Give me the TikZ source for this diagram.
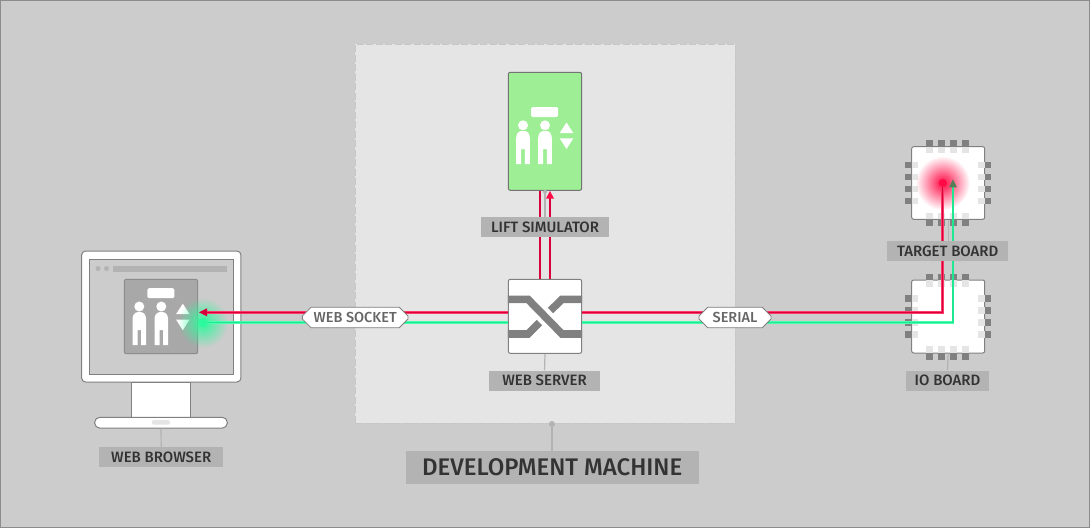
\documentclass[tikz,border=0pt]{standalone}
\usepackage{fontspec}
\setmainfont{Fira Sans Medium}
\usetikzlibrary{arrows.meta,fadings,shapes.misc,calc}
\definecolor{bgc}{HTML}{CCCCCC}
\definecolor{devc}{HTML}{E5E5E5}
\definecolor{labc}{HTML}{B3B3B3}
\definecolor{edgec}{HTML}{808080}
\definecolor{txtc}{HTML}{333333}
\definecolor{pinc}{HTML}{808080}
\definecolor{redc}{HTML}{FF0A45}
\definecolor{redo}{HTML}{FF3A68}
\definecolor{redk}{HTML}{D8003A}
\definecolor{grnc}{HTML}{2CFA9C}
\definecolor{grno}{HTML}{48FFAE}
\definecolor{grnk}{HTML}{20E890}
\definecolor{liftc}{HTML}{9DEE95}
\tikzfading[name=glowfade, inner color=transparent!0, outer color=transparent!100]
\tikzset{
  lab/.style={fill=labc,text=txtc,inner sep=0pt,font=\fontsize{15}{18}\selectfont,anchor=center},
  box/.style={draw=edgec,line width=1pt,rounded corners=2pt,inner sep=0pt,anchor=center},
  lead/.style={draw=labc,line width=1.2pt},
  redl/.style={draw=redo,double=redk,double distance=1.3pt,line width=0.8pt},
  grnl/.style={draw=grno,double=grnk,double distance=1.3pt,line width=0.8pt},
  pill/.style={draw=edgec,fill=white,line width=0.8pt,chamfered rectangle,chamfered rectangle xsep=7pt,chamfered rectangle ysep=3.5pt,inner xsep=0pt,inner ysep=0pt,text=black!60,font=\fontsize{14.5}{17}\selectfont,anchor=center},
  swl/.style={draw=edgec,line width=7.6pt},
  iconw/.style={fill=white,draw=none}
}
\newcommand{\lifticon}[2]{%
 \begin{scope}[shift={(#1,#2)}]
  \fill[iconw,rounded corners=1.5pt] (531,107) rectangle (558,117);
  \foreach \px in {523,545}{
   \fill[iconw] (\px,125.3) circle (5);
   \fill[iconw] (\px-6.8,164) -- (\px-6.8,138) arc[start angle=180,end angle=90,x radius=5,y radius=-7] -- (\px+1.8,131) arc[start angle=90,end angle=0,x radius=5,y radius=-7] -- (\px+6.8,164) -- (\px+1.8,164) -- (\px+1.8,149) -- (\px-1.8,149) -- (\px-1.8,164) -- cycle;
  }
  \fill[iconw] (566.5,122.5) -- (573.3,133) -- (559.7,133) -- cycle;
  \fill[iconw] (566.5,149) -- (573.3,138.3) -- (559.7,138.3) -- cycle;
 \end{scope}}
\newcommand{\chippins}[2]{%
 \begin{scope}[shift={(0,#2)}]
  \foreach \q in {0,12,24,36}{
   \fill[pinc] (926.3+\q,140) rectangle +(6.7,6.7);
   \fill[devc] (926.3+\q,146.7) rectangle +(6.7,6.6);
   \fill[pinc] (926.3+\q,219.3) rectangle +(6.7,6.6);
   \fill[devc] (926.3+\q,212.7) rectangle +(6.7,6.6);
   \fill[pinc] (905,161.7+\q) rectangle +(6.7,6.7);
   \fill[devc] (911.7,161.7+\q) rectangle +(6.6,6.7);
   \fill[pinc] (984.7,161.7+\q) rectangle +(6.6,6.7);
   \fill[devc] (978,161.7+\q) rectangle +(6.7,6.7);
  }
 \end{scope}}
\begin{document}
\begin{tikzpicture}[x=1pt,y=-1pt]
\useasboundingbox (0,0) rectangle (1090,528);
\path[fill=bgc,draw=black!45,line width=1pt] (0.5,0.5) rectangle (1089.5,527.5);
% development machine
\node[fill=devc,draw=black!22,dash pattern=on 7pt off 2.5pt,line width=1pt,minimum width=380pt,minimum height=379pt,inner sep=0pt] (dev) at (545,233.5) {};
\node[lab,minimum width=293pt,minimum height=33pt,font=\fontsize{24}{28}\selectfont] (devlab) at (552.2,467.5) {DEVELOPMENT MACHINE};
\coordinate (devtop) at (552,424);
\draw[lead] (devtop) -- (devtop |- devlab.north);
\fill[labc] (devtop) circle (3);
% monitor
\node[box,fill=white,rounded corners=4pt,minimum width=159.3pt,minimum height=131pt] (mon) at (161.3,316.5) {};
\node[fill=bgc,draw=edgec,line width=1pt,inner sep=0pt,minimum width=143.7pt,minimum height=115pt] (screen) at (161.2,316.5) {};
\fill[labc] (98,268.5) circle (2.5) (106.5,268.5) circle (2.5);
\fill[labc] (112.7,265.5) rectangle (227,272);
\node[fill=white,draw=edgec,line width=1pt,inner sep=0pt,minimum width=59.4pt,minimum height=35pt] (neck) at (161,399.5) {};
\node[box,fill=white,rounded corners=5pt,minimum width=132.6pt,minimum height=10.7pt] (base) at (161,422.7) {};
\fill[devc,rounded corners=2pt] (152,420) rectangle (170,424.7);
\node[lab,minimum width=123.7pt,minimum height=20pt] (brlab) at (161.2,457.3) {WEB BROWSER};
\draw[lead] (base.south) -- (brlab.north);
\node[box,fill=black!34,draw=black!45,minimum width=73.4pt,minimum height=74.4pt] (panel) at (161,316.5) {};
\lifticon{-383.7}{181.2}
% green glow
\fill[grnc,path fading=glowfade] (203,322.7) circle (25);
% lift
\node[box,fill=liftc,draw=black!55,minimum width=73.4pt,minimum height=118pt] (lift) at (545,131.3) {};
\lifticon{0}{0}
% target / io chips
\node[box,fill=white,minimum width=73pt,minimum height=72.6pt] (target) at (948.2,183) {};
\node[box,fill=white,minimum width=73pt,minimum height=73pt] (io) at (948.2,316.5) {};
\chippins{0}{0}
\chippins{0}{133.7}
% red glow
\fill[redc,path fading=glowfade] (942.7,183) circle (27);
% leaders
\node[lab,minimum width=111pt,minimum height=20pt] (srvlab) at (544.5,380.5) {WEB SERVER};
\node[lab,minimum width=83pt,minimum height=20pt] (iolab) at (947.5,380.5) {IO BOARD};
% server
\node[box,fill=white,minimum width=73.4pt,minimum height=74pt] (server) at (545,316.3) {};
\draw[swl] (server.west |- 0,299.3) -- (528,299.3) -- (562,334) -- (server.east |- 0,334);
\draw[swl] (server.west |- 0,334) -- (528,334) -- (539.5,322.5);
\draw[swl] (server.east |- 0,299.3) -- (562,299.3) -- (550.5,310.5);
% named connector ends
\coordinate (lr1) at (540,191);
\coordinate (lr2) at (550,191);
\coordinate (lr2b) at (550,197);
\coordinate (sr1) at (540,279.3);
\coordinate (sr2) at (550,279.3);
\coordinate (bwr) at (199,312.3);
\coordinate (bwrb) at (206,312.3);
\coordinate (swr) at (508.3,312.3);
\coordinate (ser) at (581.7,312.3);
\coordinate (cr) at (942.7,312.3);
\coordinate (tr) at (942.7,183);
\coordinate (bwg) at (203,322.7);
\coordinate (swg) at (508.3,322.7);
\coordinate (seg) at (581.7,322.7);
\coordinate (cg) at (953,322.7);
\coordinate (tg) at (953,179.3);
% lines
\draw[redl] (sr1) -- (lr1);
\draw[redl] (sr2) -- (lr2b);
\fill[redc] (lr2) -- ++(4,7.5) -- ++(-8,0) -- cycle;
\draw[redl] (swr) -- (bwrb);
\fill[redk] (bwr) -- ++(8,-4) -- ++(0,8) -- cycle;
\draw[grnl] (swg) -- (bwg);
\fill[grnc] (bwg) circle (4.5);
\draw[redl] (ser) -- (cr) -- (tr);
\fill[redc] (tr) circle (4);
\draw[grnl] (seg) -- (cg) -- ($(tg)+(0,7)$);
\fill[black!20!edgec!85!green] (tg) -- ++(4,8) -- ++(-8,0) -- cycle;
% labels on top of the lines
\draw[lead] (lift.south) -- ++(0,26);
\fill[labc] (lift.south) ++(0,1) circle (2);
\draw[lead] (server.south) -- (srvlab.north);
\draw[lead] (target.south) -- ++(0,22);
\draw[lead] (io.south) -- (iolab.north);
\node[lab,minimum width=128pt,minimum height=20pt] (liftlab) at (545,227) {LIFT SIMULATOR};
\node[lab,minimum width=120.7pt,minimum height=20pt] (tarlab) at (947.7,251) {TARGET BOARD};
\node[pill,minimum width=105.7pt,minimum height=20.4pt] (ws) at (355.2,317.5) {WEB SOCKET};
\node[pill,minimum width=72pt,minimum height=20.4pt] (sl) at (735,317.5) {SERIAL};
\end{tikzpicture}
\end{document}
